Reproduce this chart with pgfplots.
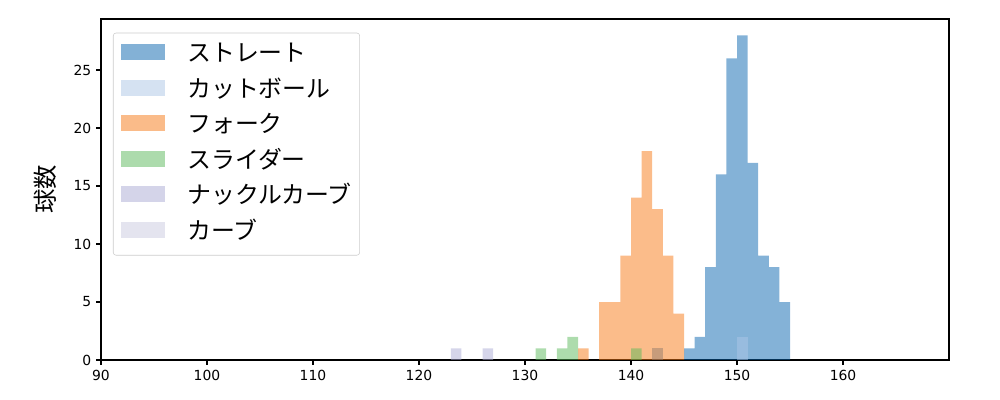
\documentclass[border=0pt]{standalone}
\usepackage{pgfplots}
\pgfplotsset{compat=1.18}
\usepackage{fontspec}
\setmainfont{DejaVu Sans}
\newfontfamily\cjk{Noto Sans CJK JP}
\definecolor{cstraight}{RGB}{9,101,175}
\definecolor{ccut}{RGB}{173,199,231}
\definecolor{cfork}{RGB}{247,121,21}
\definecolor{cslider}{RGB}{91,185,91}
\definecolor{cknuckle}{RGB}{171,171,213}
\definecolor{ccurve}{RGB}{203,203,225}
\definecolor{cbrown}{RGB}{149,124,110}
\begin{document}
\begin{tikzpicture}
\useasboundingbox (-72.7pt,-28.8pt) rectangle (647.3pt,259.2pt);
\begin{axis}[
  at={(0,0)}, anchor=south west,
  scale only axis, width=610.6pt, height=245.5pt,
  xmin=90, xmax=170, ymin=0, ymax=29.4,
  xtick={90,100,...,160}, ytick={0,5,...,25},
  xtick pos=bottom, ytick pos=left,
  tick align=outside, major tick length=3.5pt,
  tick style={line width=0.8pt, black},
  axis line style={line width=0.8pt},
  ticklabel style={font=\fontsize{10}{12}\selectfont},
  /pgf/number format/assume math mode=true,
  ylabel={\cjk 球数},
  every axis y label/.append style={at={(axis description cs:-0.066,0.5)}, anchor=center, font=\fontsize{17.5}{20}\selectfont},
  legend cell align=left,
  legend image code/.code={\fill[#1, sharp corners] (0pt,-3.6pt) rectangle (31.7pt,7.9pt);},
  legend style={at={(axis description cs:0.01415,0.9598)}, anchor=north west,
    draw=black!20, rounded corners=2pt, fill=white,
    font=\cjk\fontsize{17.2}{20}\selectfont,
    inner xsep=5.8pt, inner ysep=7.5pt, row sep=8.6pt, column sep=15.8pt,
    nodes={inner sep=0pt, text height=13pt, text depth=4pt}},
]
\addplot[ybar, bar width=1, bar shift=0pt, fill=cstraight, fill opacity=0.5, draw=none] coordinates {
(145.5,1) (146.5,2) (147.5,8) (148.5,16) (149.5,26) (150.5,28) (151.5,17) (152.5,9) (153.5,8) (154.5,5)};
\addlegendentry{ストレート}
\addplot[ybar, bar width=1, bar shift=0pt, fill=ccut, fill opacity=0.5, draw=none] coordinates {
(150.5,2)};
\addlegendentry{カットボール}
\addplot[ybar, bar width=1, bar shift=0pt, fill=cfork, fill opacity=0.5, draw=none] coordinates {
(135.5,1) (137.5,5) (138.5,5) (139.5,9) (140.5,14) (141.5,18) (142.5,13) (143.5,9) (144.5,4)};
\addlegendentry{フォーク}
\addplot[ybar, bar width=1, bar shift=0pt, fill=cslider, fill opacity=0.5, draw=none] coordinates {
(131.5,1) (133.5,1) (134.5,2) (140.5,1)};
\addlegendentry{スライダー}
\addplot[ybar, bar width=1, bar shift=0pt, fill=cknuckle, fill opacity=0.5, draw=none] coordinates {
(123.5,1) (126.5,1)};
\addlegendentry{ナックルカーブ}
\addlegendimage{fill=ccurve, fill opacity=0.5, draw=none}
\addlegendentry{カーブ}
\addplot[ybar, bar width=1, bar shift=0pt, fill=cbrown, fill opacity=0.5, draw=none, forget plot] coordinates {
(142.5,1)};
\end{axis}
\end{tikzpicture}
\end{document}
